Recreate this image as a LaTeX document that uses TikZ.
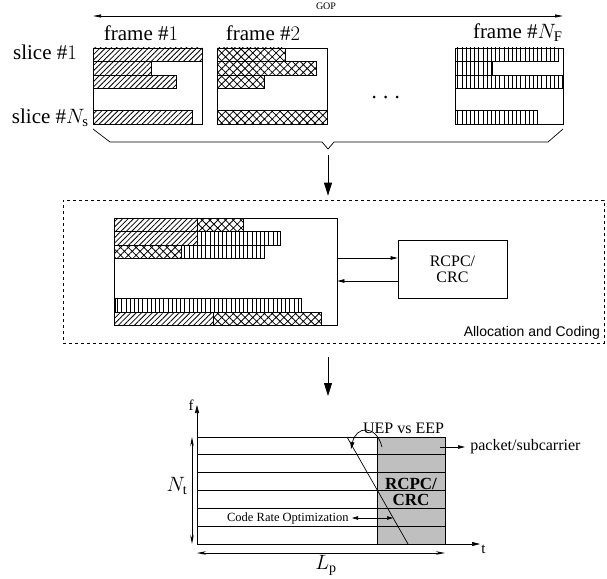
\documentclass[tikz,border=0pt]{standalone}
\usepackage{fontspec}
\setmainfont{Liberation Serif}
\setsansfont{Liberation Sans}
\usetikzlibrary{positioning, arrows.meta, patterns.meta}

\begin{document}
\begin{tikzpicture}[x=1pt, y=-1pt, line width=0.7pt,
  big/.style={font=\fontsize{21}{23}\selectfont, inner sep=0pt},
  mid/.style={font=\fontsize{16}{18}\selectfont, inner sep=0pt},
  box/.style={draw, inner sep=0pt},
  diag/.style={draw, pattern={Lines[angle=45,distance=3.8pt,line width=0.8pt]}},
  xhatch/.style={draw, pattern={Hatch[angle=45,distance=5.5pt,line width=0.8pt]}},
  vert/.style={draw, pattern={Lines[angle=90,distance=4.2pt,line width=0.9pt]}},
  bigarrow/.style={-{Triangle[length=13pt,width=8pt]}, line width=0.8pt},
  smallarrow/.style={-{Triangle[length=7pt,width=3.5pt]}},
  dblarrow/.style={{Stealth[length=9pt,width=3.5pt]}-{Stealth[length=9pt,width=3.5pt]}}
]
\useasboundingbox (0,0) rectangle (607,578);

% GOP
\draw[{Triangle[length=8pt,width=3pt]}-{Triangle[length=8pt,width=3pt]}] (93,16) -- (563,16);
\node[font=\fontsize{10}{11}\selectfont, inner sep=0pt] (gop) at (326,6) {GOP};

% frames of the GOP
\node[box, minimum width=109pt, minimum height=76pt] (f1) at (147.5,86) {};
\node[box, minimum width=110pt, minimum height=76pt] (f2) at (272,86) {};
\node[box, minimum width=108pt, minimum height=76pt] (fN) at (509,86) {};
\node[big] (lf1) at (141,33) {frame $\#1$};
\node[big] (lf2) at (263,33) {frame $\#2$};
\node[big, anchor=east] (lfN) at (563,33) {frame $\#N_{\mathrm{F}}$};
\node[big] (ls1) at (45,52) {slice $\#1$};
\node[big, anchor=east] (lsN) at (89,118) {slice $\#N_{\mathrm{s}}$};

\draw[diag] (93,48) rectangle (202,61.5);
\draw[diag] (93,61.5) rectangle (151,75);
\draw[diag] (93,75) rectangle (176,88);
\draw[diag] (93,110) rectangle (192,124);

\draw[xhatch] (217,48) rectangle (285,61.5);
\draw[xhatch] (217,61.5) rectangle (316,75);
\draw[xhatch] (217,75) rectangle (264,88);
\draw[xhatch] (217,110) rectangle (327,124);

\draw[vert] (455,48) rectangle (558,61.5);
\draw[vert] (455,61.5) rectangle (492,75);
\draw[vert] (455,75) rectangle (563,88);
\draw[vert] (455,110) rectangle (537,124);

\foreach \x in {374,385.5,397}
  \fill (\x,97) circle (1.5pt);

% brace
\coordinate (brc) at (328,155);
\draw (93,129) -- (110,142) -- (322,142) -- (328,149) -- (334,142) -- (548,142) -- (563,129);

% allocation and coding
\node[draw, dashed, minimum width=541pt, minimum height=143pt] (alloc) at (333.5,271.5) {};
\node[font=\fontsize{14}{15}\selectfont\sffamily, anchor=south east, inner sep=4pt] (lalloc) at (alloc.south east) {Allocation and Coding};
\draw[bigarrow, shorten >=4pt] (brc) -- (brc |- alloc.north);

\node[box, minimum width=223pt, minimum height=107pt] (buf) at (225.5,271.5) {};
\node[box, minimum width=109pt, minimum height=58pt, align=center, font=\fontsize{16}{16}\selectfont] (rcpc) at (452.5,269) {RCPC/\\CRC};

\draw[diag] (114,218) rectangle (197,231);
\draw[xhatch] (197,218) rectangle (243,231);
\draw[diag] (114,231) rectangle (197,245);
\draw[vert] (197,231) rectangle (280,245);
\draw[xhatch] (114,245) rectangle (181,258);
\draw[vert] (181,245) rectangle (264,258);
\draw[vert] (115,298) rectangle (218,312);
\draw[vert] (218,298) rectangle (301,312);
\draw[diag] (114,312) rectangle (213,325);
\draw[xhatch] (213,312) rectangle (321,325);

\coordinate (ya) at (0,258);
\coordinate (yb) at (0,281);
\draw[smallarrow] (buf.east |- ya) -- (rcpc.west |- ya);
\draw[smallarrow] (rcpc.west |- yb) -- (buf.east |- yb);

\coordinate (gtop) at (328,396);
\draw[bigarrow, shorten <=14pt] (brc |- alloc.south) -- (gtop);

% packet grid
\coordinate (o) at (197,544);
\fill[gray!50] (377,437) rectangle (445,544);
\foreach \i in {0,...,5}
  \draw (197,{437+17.83*\i}) -- (445,{437+17.83*\i});
\draw (377,437) -- (377,544);
\draw (445,437) -- (445,544);
\draw[-{Triangle[length=8pt,width=4pt]}] (o) -- (197,405) node[left, inner sep=3pt, font=\fontsize{15}{16}\selectfont] (f) {f};
\draw[-{Triangle[length=8pt,width=4pt]}] (o) -- (480,544) node[below right, inner sep=1pt, font=\fontsize{15}{16}\selectfont] (t) {t};

\draw (347,437) -- (408,544);
\draw[-{Triangle[length=7pt,width=4pt]}] (382,447) .. controls (376,424) and (356,426) .. (351,449);
\node[mid] (uep) at (403.5,428) {UEP vs EEP};
\node[mid, font=\fontsize{17}{16}\selectfont\bfseries, align=center] (rc2) at (411,492) {RCPC/\\CRC};

\draw[smallarrow] (440,447) -- (465,447) node[mid, right, inner sep=0pt, xshift=5pt] (pk) {packet/subcarrier};

\node[font=\fontsize{12.5}{13}\selectfont, anchor=east, inner sep=0pt] (cro) at (349,518) {Code Rate Optimization};
\draw[{Triangle[length=6pt,width=3.5pt]}-{Triangle[length=6pt,width=3.5pt]}] ([xshift=3pt]cro.east) -- (393,518);

\draw[dblarrow] (192,437) -- (192,544);
\node[font=\fontsize{20}{22}\selectfont, inner sep=0pt] (nt) at (177,486) {$N_{\mathrm{t}}$};
\draw[dblarrow] (197,553) -- (445,553);
\node[font=\fontsize{20}{22}\selectfont, inner sep=0pt] (lp) at (326,565) {$L_{\mathrm{p}}$};
\end{tikzpicture}
\end{document}
